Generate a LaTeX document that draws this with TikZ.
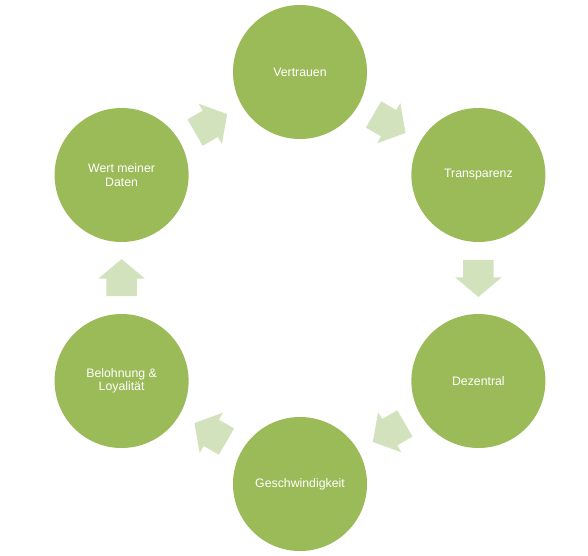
\documentclass[tikz,border=0pt]{standalone}
\usepackage{fontspec}
\setmainfont{Liberation Sans}
\usetikzlibrary{shapes.arrows,calc}
\definecolor{circgreen}{HTML}{9BBB59}
\definecolor{arrgreen}{HTML}{D1E2BD}
\tikzset{
  stage/.style={circle, fill=circgreen, draw=none, minimum size=134pt, inner sep=0pt,
    text=white, align=center, font=\fontsize{12.3}{13.5}\selectfont},
  flowarrow/.style={single arrow, fill=arrgreen, draw=none, minimum height=37pt,
    inner xsep=0pt, inner ysep=15pt, single arrow head extend=8pt, single arrow tip angle=100}
}
\begin{document}
\begin{tikzpicture}[x=1pt,y=1pt]
\useasboundingbox (-300,-277) rectangle (288,278);
\node[stage] (v) at (90:206) {Vertrauen};
\node[stage] (t) at (30:206) {Transparenz};
\node[stage] (d) at (-30:206) {Dezentral};
\node[stage] (g) at (-90:206) {Geschwindigkeit};
\node[stage] (b) at (-150:206) {Belohnung \&\\Loyalität};
\node[stage] (w) at (150:206) {Wert meiner\\Daten};
\coordinate (m1) at ($(v)!0.5!(t)$);
\coordinate (m2) at ($(t)!0.5!(d)$);
\coordinate (m3) at ($(d)!0.5!(g)$);
\coordinate (m4) at ($(g)!0.5!(b)$);
\coordinate (m5) at ($(b)!0.5!(w)$);
\coordinate (m6) at ($(w)!0.5!(v)$);
\node[flowarrow, rotate=-30] (a1) at ($(m1)!-6pt!(t)$) {};
\node[flowarrow, rotate=-90] (a2) at ($(m2)!-6pt!(d)$) {};
\node[flowarrow, rotate=-150] (a3) at ($(m3)!-6pt!(g)$) {};
\node[flowarrow, rotate=150] (a4) at ($(m4)!-6pt!(b)$) {};
\node[flowarrow, rotate=90] (a5) at ($(m5)!-6pt!(w)$) {};
\node[flowarrow, rotate=30] (a6) at ($(m6)!-6pt!(v)$) {};
\end{tikzpicture}
\end{document}
